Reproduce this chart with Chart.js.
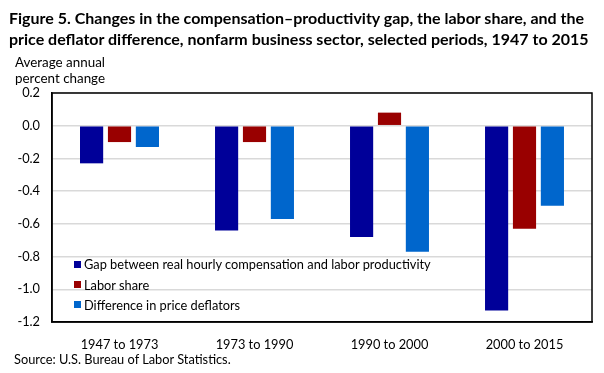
<!DOCTYPE html>
<html>
<head>
<meta charset="utf-8">
<script src="https://cdn.jsdelivr.net/npm/chart.js@4"></script>
<style>
  body { margin: 0; background: #fff; font-family: Lato, "DejaVu Sans", sans-serif; }
  #wrap { position: relative; width: 604px; height: 373px; }
  #chart { position: absolute; left: 0; top: 0; }
  .title { position: absolute; left: 9px; top: 7px; font-size: 16px; font-weight: bold; line-height: 21px; color: #000; white-space: nowrap; }
  .ylabel { position: absolute; left: 15px; top: 54px; font-size: 13.4px; line-height: 16px; color: #000; }
  .source { position: absolute; left: 14px; top: 351px; font-size: 12.8px; color: #000; }
  #legend { position: absolute; left: 74px; top: 254px; font-size: 12.8px; color: #000; }
  #legend div { height: 20.4px; display: flex; align-items: center; }
  #legend span.box { display: inline-block; width: 7px; height: 7px; margin-right: 3px; }
</style>
</head>
<body>
<div id="wrap">
  <canvas id="chart" width="604" height="373"></canvas>
  <div class="title">Figure 5. Changes in the compensation–productivity gap, the labor share, and the<br>price deflator difference, nonfarm business sector, selected periods, 1947 to 2015</div>
  <div class="ylabel">Average annual<br>percent change</div>
  <div id="legend"></div>
  <div class="source">Source: U.S. Bureau of Labor Statistics.</div>
</div>
<script>
const periods = ["1947 to 1973", "1973 to 1990", "1990 to 2000", "2000 to 2015"];
const gapValues = [-0.23, -0.64, -0.68, -1.13];
const laborShareValues = [-0.10, -0.10, 0.08, -0.63];
const deflatorValues = [-0.13, -0.57, -0.77, -0.49];
const seriesNames = [
  "Gap between real hourly compensation and labor productivity",
  "Labor share",
  "Difference in price deflators",
];
const seriesColors = ["#000099", "#990000", "#0066CC"];

const frame = {
  id: "frame",
  afterDraw(chart) {
    const { ctx, chartArea } = chart;
    ctx.save();
    ctx.strokeStyle = "#000";
    ctx.lineWidth = 1.5;
    ctx.strokeRect(chartArea.left, chartArea.top, chartArea.right - chartArea.left, chartArea.bottom - chartArea.top);
    ctx.restore();
  },
};

const font = { family: 'Lato, "DejaVu Sans", sans-serif', size: 12.8 };

const chart = new Chart(document.getElementById("chart"), {
  type: "bar",
  data: {
    labels: periods,
    datasets: [gapValues, laborShareValues, deflatorValues].map((values, i) => ({
      label: seriesNames[i],
      data: values,
      backgroundColor: seriesColors[i],
      barPercentage: 0.83,
      categoryPercentage: 0.62,
    })),
  },
  options: {
    responsive: false,
    animation: false,
    layout: { padding: { left: 0, right: 12, top: 93, bottom: 0 } },
    plugins: { legend: { display: false }, tooltip: { enabled: false } },
    scales: {
      x: {
        grid: { display: false },
        border: { color: "#000", width: 1.5 },
        ticks: { color: "#000", font, padding: 7 },
        afterFit(scale) { scale.height = 51; },
      },
      y: {
        min: -1.2,
        max: 0.2,
        grid: { color: "#d9d9d9", lineWidth: 1.5, drawTicks: false },
        border: { color: "#000", width: 1.5 },
        ticks: {
          stepSize: 0.2,
          color: "#000",
          font,
          padding: 12,
          callback: (v) => (Math.abs(v) < 1e-9 ? "0.0" : v.toFixed(1)),
        },
        afterFit(scale) { scale.width = 52; },
      },
    },
  },
  plugins: [frame],
});

const legend = document.getElementById("legend");
seriesNames.forEach((name, i) => {
  const row = document.createElement("div");
  row.innerHTML = `<span class="box" style="background:${seriesColors[i]}"></span>${name}`;
  legend.appendChild(row);
});
</script>
</body>
</html>
